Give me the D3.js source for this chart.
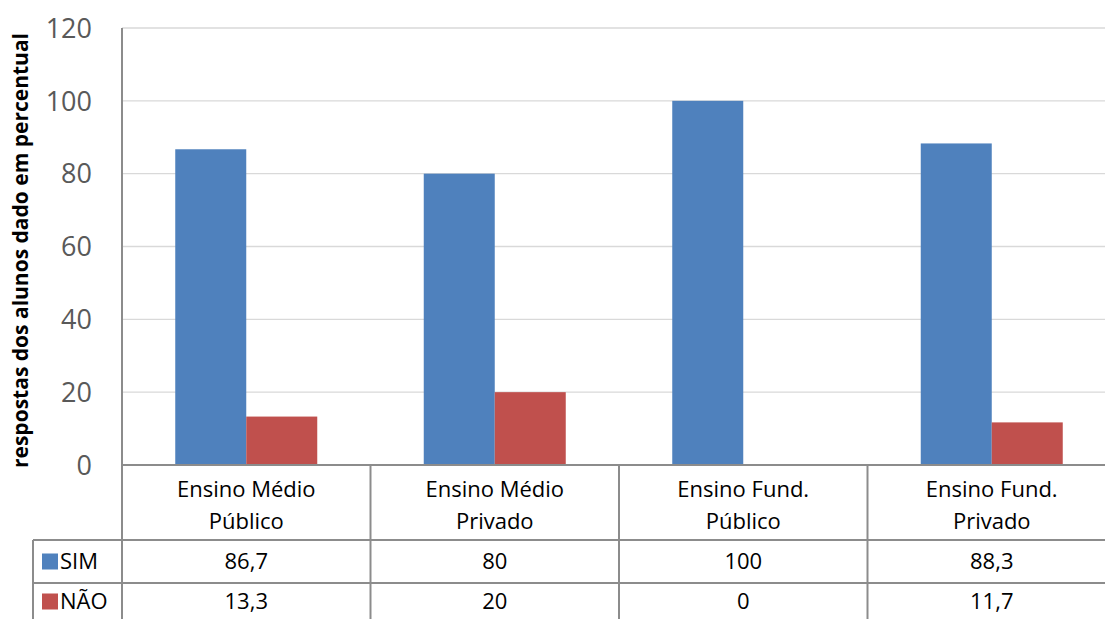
<!DOCTYPE html>
<html lang="pt">
<head>
<meta charset="UTF-8">
<title>Respostas dos alunos</title>
<script src="https://d3js.org/d3.v7.min.js"></script>
<style>
  body { margin: 0; background: #fff; overflow: hidden; }
  svg { display: block; font-family: "Open Sans", "Noto Sans", sans-serif; }
</style>
</head>
<body>
<svg id="chart" width="1105" height="619"></svg>
<script>
// chart data
const categories = [["Ensino Médio", "Público"], ["Ensino Médio", "Privado"], ["Ensino Fund.", "Público"], ["Ensino Fund.", "Privado"]];
const seriesNames = ["SIM", "NÃO"];
const simValues = [86.7, 80, 100, 88.3];
const naoValues = [13.3, 20, 0, 11.7];
const simLabels = ["86,7", "80", "100", "88,3"];
const naoLabels = ["13,3", "20", "0", "11,7"];
const yTicks = [0, 20, 40, 60, 80, 100, 120];
const colors = ["#4F81BD", "#C0504D"];

const svg = d3.select("#chart");
const plotLeft = 122, plotTop = 28, plotBottom = 465, catW = 248.5;
const rowCat = 540, rowSim = 583, rowNao = 622;
const tableLeft = 33;

const x0 = d3.scaleBand().domain(d3.range(categories.length)).range([plotLeft, plotLeft + catW * categories.length]);
const x1 = d3.scaleBand().domain(seriesNames).range([0, x0.bandwidth()]).paddingOuter(0.75).paddingInner(0);
const y = d3.scaleLinear().domain([0, 120]).range([plotBottom, plotTop]);

// gridlines
svg.append("g").selectAll("line").data(yTicks.slice(1)).join("line")
  .attr("x1", plotLeft).attr("x2", 1105)
  .attr("y1", d => y(d)).attr("y2", d => y(d))
  .attr("stroke", "#d9d9d9").attr("stroke-width", 1.3);

// y tick labels
svg.append("g").selectAll("text").data(yTicks).join("text")
  .attr("x", 92).attr("y", d => y(d))
  .attr("dy", "0.36em").attr("text-anchor", "end")
  .attr("font-size", 27).attr("fill", "#595959")
  .text(d => d);

// y axis title
svg.append("text")
  .attr("transform", `translate(28,${(plotTop + plotBottom) / 2 + 4}) rotate(-90)`)
  .attr("text-anchor", "middle").attr("font-size", 21).attr("font-weight", "bold")
  .attr("fill", "#000")
  .text("respostas dos alunos dado em percentual");

// bars
const series = [simValues, naoValues];
const groups = svg.append("g").selectAll("g").data(seriesNames).join("g")
  .attr("fill", (d, i) => colors[i]);
groups.selectAll("rect").data((s, si) => series[si].map((v, ci) => ({ s, v, ci }))).join("rect")
  .attr("x", d => x0(d.ci) + x1(d.s))
  .attr("width", x1.bandwidth())
  .attr("y", d => y(d.v))
  .attr("height", d => plotBottom - y(d.v));

// table lines
const lineColor = "#8c8c8c";
const tl = svg.append("g").attr("stroke", lineColor).attr("stroke-width", 2);
tl.append("line").attr("x1", plotLeft).attr("x2", plotLeft).attr("y1", plotTop).attr("y2", rowNao);
tl.append("line").attr("x1", plotLeft).attr("x2", 1105).attr("y1", plotBottom).attr("y2", plotBottom);
tl.selectAll(".vb").data(d3.range(1, categories.length)).join("line")
  .attr("x1", i => x0(i)).attr("x2", i => x0(i))
  .attr("y1", plotBottom).attr("y2", rowNao);
tl.selectAll(".hr").data([rowCat, rowSim]).join("line")
  .attr("x1", tableLeft).attr("x2", 1105)
  .attr("y1", d => d).attr("y2", d => d);
tl.append("line").attr("x1", tableLeft).attr("x2", tableLeft).attr("y1", rowCat).attr("y2", rowNao);

// category labels
const cat = svg.append("g").selectAll("text").data(categories).join("text")
  .attr("text-anchor", "middle").attr("font-size", 22).attr("fill", "#000");
cat.append("tspan").attr("x", (d, i) => x0(i) + x0.bandwidth() / 2).attr("y", 497).text(d => d[0]);
cat.append("tspan").attr("x", (d, i) => x0(i) + x0.bandwidth() / 2).attr("y", 529).text(d => d[1]);

// table values
const rowsY = [(rowCat + rowSim) / 2, (rowSim + rowNao) / 2 - 1];
[simLabels, naoLabels].forEach((labels, ri) => {
  svg.append("g").selectAll("text").data(labels).join("text")
    .attr("x", (d, i) => x0(i) + x0.bandwidth() / 2)
    .attr("y", rowsY[ri]).attr("dy", "0.36em")
    .attr("text-anchor", "middle").attr("font-size", 22).attr("fill", "#000")
    .text(d => d);
});

// legend keys in table
const leg = svg.append("g").selectAll("g").data(seriesNames).join("g")
  .attr("transform", (d, i) => `translate(42,${rowsY[i]})`);
leg.append("rect").attr("x", 0).attr("y", -8).attr("width", 16).attr("height", 16)
  .attr("fill", (d, i) => colors[i]);
leg.append("text").attr("x", 18).attr("dy", "0.36em")
  .attr("font-size", 22).attr("fill", "#000").text(d => d);
</script>
</body>
</html>
